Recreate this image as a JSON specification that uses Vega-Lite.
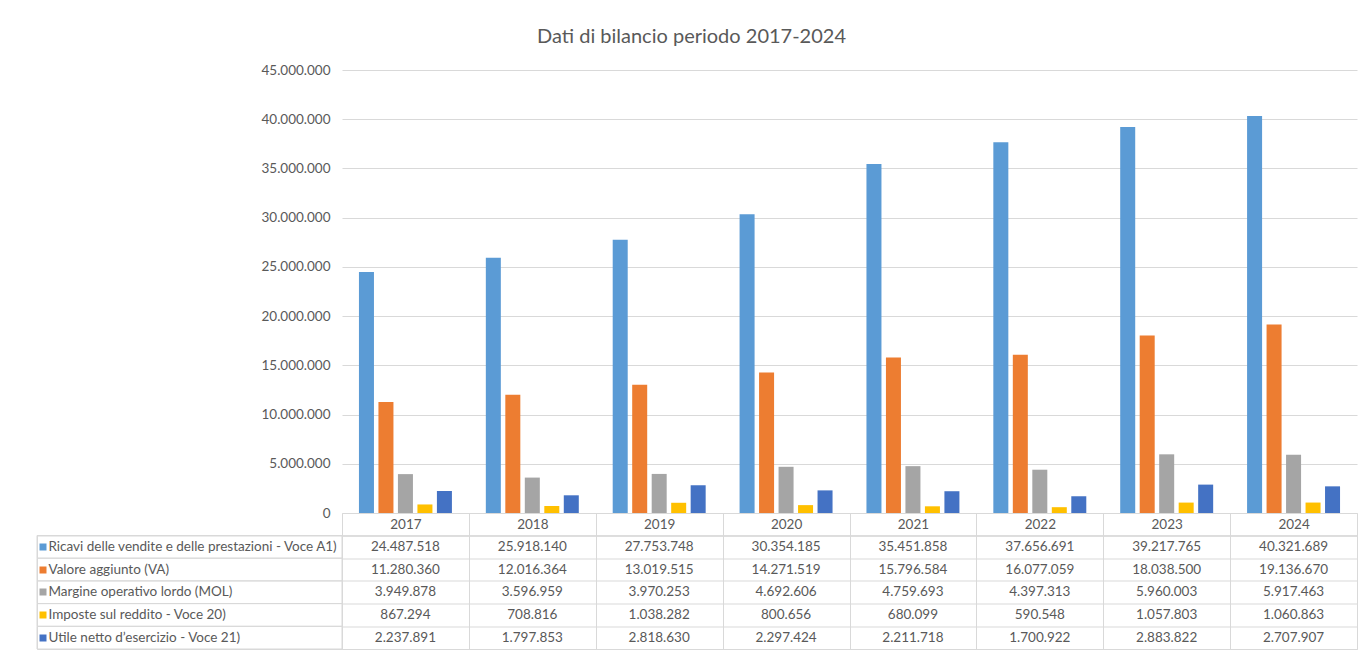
{
  "$schema": "https://vega.github.io/schema/vega-lite/v6.json",
  "background": "white",
  "padding": {"left": 35, "top": 27, "right": 5, "bottom": 0},
  "title": {"text": "Dati di bilancio periodo 2017-2024", "font": "Lato", "fontSize": 20, "fontWeight": "normal", "color": "#595959", "anchor": "middle", "offset": 16, "dx": -5},
  "datasets": {
    "bilancio": [
      {"anno": "2017", "voce": "Ricavi delle vendite e delle prestazioni - Voce A1)", "valore": 24487518},
      {"anno": "2017", "voce": "Valore aggiunto (VA)", "valore": 11280360},
      {"anno": "2017", "voce": "Margine operativo lordo (MOL)", "valore": 3949878},
      {"anno": "2017", "voce": "Imposte sul reddito - Voce 20)", "valore": 867294},
      {"anno": "2017", "voce": "Utile netto d’esercizio - Voce 21)", "valore": 2237891},
      {"anno": "2018", "voce": "Ricavi delle vendite e delle prestazioni - Voce A1)", "valore": 25918140},
      {"anno": "2018", "voce": "Valore aggiunto (VA)", "valore": 12016364},
      {"anno": "2018", "voce": "Margine operativo lordo (MOL)", "valore": 3596959},
      {"anno": "2018", "voce": "Imposte sul reddito - Voce 20)", "valore": 708816},
      {"anno": "2018", "voce": "Utile netto d’esercizio - Voce 21)", "valore": 1797853},
      {"anno": "2019", "voce": "Ricavi delle vendite e delle prestazioni - Voce A1)", "valore": 27753748},
      {"anno": "2019", "voce": "Valore aggiunto (VA)", "valore": 13019515},
      {"anno": "2019", "voce": "Margine operativo lordo (MOL)", "valore": 3970253},
      {"anno": "2019", "voce": "Imposte sul reddito - Voce 20)", "valore": 1038282},
      {"anno": "2019", "voce": "Utile netto d’esercizio - Voce 21)", "valore": 2818630},
      {"anno": "2020", "voce": "Ricavi delle vendite e delle prestazioni - Voce A1)", "valore": 30354185},
      {"anno": "2020", "voce": "Valore aggiunto (VA)", "valore": 14271519},
      {"anno": "2020", "voce": "Margine operativo lordo (MOL)", "valore": 4692606},
      {"anno": "2020", "voce": "Imposte sul reddito - Voce 20)", "valore": 800656},
      {"anno": "2020", "voce": "Utile netto d’esercizio - Voce 21)", "valore": 2297424},
      {"anno": "2021", "voce": "Ricavi delle vendite e delle prestazioni - Voce A1)", "valore": 35451858},
      {"anno": "2021", "voce": "Valore aggiunto (VA)", "valore": 15796584},
      {"anno": "2021", "voce": "Margine operativo lordo (MOL)", "valore": 4759693},
      {"anno": "2021", "voce": "Imposte sul reddito - Voce 20)", "valore": 680099},
      {"anno": "2021", "voce": "Utile netto d’esercizio - Voce 21)", "valore": 2211718},
      {"anno": "2022", "voce": "Ricavi delle vendite e delle prestazioni - Voce A1)", "valore": 37656691},
      {"anno": "2022", "voce": "Valore aggiunto (VA)", "valore": 16077059},
      {"anno": "2022", "voce": "Margine operativo lordo (MOL)", "valore": 4397313},
      {"anno": "2022", "voce": "Imposte sul reddito - Voce 20)", "valore": 590548},
      {"anno": "2022", "voce": "Utile netto d’esercizio - Voce 21)", "valore": 1700922},
      {"anno": "2023", "voce": "Ricavi delle vendite e delle prestazioni - Voce A1)", "valore": 39217765},
      {"anno": "2023", "voce": "Valore aggiunto (VA)", "valore": 18038500},
      {"anno": "2023", "voce": "Margine operativo lordo (MOL)", "valore": 5960003},
      {"anno": "2023", "voce": "Imposte sul reddito - Voce 20)", "valore": 1057803},
      {"anno": "2023", "voce": "Utile netto d’esercizio - Voce 21)", "valore": 2883822},
      {"anno": "2024", "voce": "Ricavi delle vendite e delle prestazioni - Voce A1)", "valore": 40321689},
      {"anno": "2024", "voce": "Valore aggiunto (VA)", "valore": 19136670},
      {"anno": "2024", "voce": "Margine operativo lordo (MOL)", "valore": 5917463},
      {"anno": "2024", "voce": "Imposte sul reddito - Voce 20)", "valore": 1060863},
      {"anno": "2024", "voce": "Utile netto d’esercizio - Voce 21)", "valore": 2707907}
    ]
  },
  "columns": 2,
  "bounds": "flush",
  "align": "each",
  "spacing": {"row": 22.5, "column": 0},
  "concat": [
    {
      "width": 305,
      "height": 443,
      "data": {"values": []},
      "mark": "point",
      "encoding": {}
    },
    {
      "width": 1015,
      "height": 443,
      "data": {"name": "bilancio"},
      "mark": {"type": "bar"},
      "encoding": {
        "x": {"field": "anno", "type": "nominal", "scale": {"paddingInner": 0, "paddingOuter": 0}, "axis": {"title": null, "labels": false, "ticks": false, "domain": true, "domainColor": "#d9d9d9", "grid": false}},
        "xOffset": {"field": "voce", "type": "nominal", "sort": ["Ricavi delle vendite e delle prestazioni - Voce A1)", "Valore aggiunto (VA)", "Margine operativo lordo (MOL)", "Imposte sul reddito - Voce 20)", "Utile netto d’esercizio - Voce 21)"], "scale": {"paddingInner": 0.23, "paddingOuter": 0.87}},
        "y": {"field": "valore", "type": "quantitative", "scale": {"domain": [0, 45000000]}, "axis": {"title": null, "values": [0, 5000000, 10000000, 15000000, 20000000, 25000000, 30000000, 35000000, 40000000, 45000000], "format": ",d", "domain": false, "ticks": false, "grid": true, "gridColor": "#d9d9d9", "labelFont": "Lato", "labelFontSize": 13.5, "labelColor": "#595959", "labelPadding": 12}},
        "color": {"field": "voce", "type": "nominal", "scale": {"domain": ["Ricavi delle vendite e delle prestazioni - Voce A1)", "Valore aggiunto (VA)", "Margine operativo lordo (MOL)", "Imposte sul reddito - Voce 20)", "Utile netto d’esercizio - Voce 21)"], "range": ["#5B9BD5", "#ED7D31", "#A5A5A5", "#FFC000", "#4472C4"]}, "legend": null}
      }
    },
    {
      "width": 305,
      "height": 113.5,
      "view": {"stroke": "#d9d9d9"},
      "data": {"name": "bilancio"},
      "transform": [{"filter": "datum.anno == '2017'"}],
      "mark": {"type": "rect", "fill": "white", "fillOpacity": 0, "stroke": "#d9d9d9", "strokeWidth": 1},
      "encoding": {
        "y": {"field": "voce", "type": "nominal", "scale": {"type": "band", "domain": ["Ricavi delle vendite e delle prestazioni - Voce A1)", "Valore aggiunto (VA)", "Margine operativo lordo (MOL)", "Imposte sul reddito - Voce 20)", "Utile netto d’esercizio - Voce 21)"], "paddingInner": 0, "paddingOuter": 0},
          "axis": {"title": null, "orient": "left", "offset": -2, "domain": false, "grid": false, "ticks": true, "tickSize": -7, "tickWidth": 7, "tickCap": "butt",
            "tickColor": {"condition": [
              {"test": "datum.value === 'Ricavi delle vendite e delle prestazioni - Voce A1)'", "value": "#5B9BD5"},
              {"test": "datum.value === 'Valore aggiunto (VA)'", "value": "#ED7D31"},
              {"test": "datum.value === 'Margine operativo lordo (MOL)'", "value": "#A5A5A5"},
              {"test": "datum.value === 'Imposte sul reddito - Voce 20)'", "value": "#FFC000"}
            ], "value": "#4472C4"},
            "labelAlign": "left", "labelBaseline": "middle", "labelPadding": -2, "labelLimit": 400, "labelFont": "Lato", "labelFontSize": 13.5, "labelColor": "#595959"}}
      }
    },
    {
      "width": 1015,
      "height": 113.5,
      "view": {"stroke": "#d9d9d9"},
      "data": {"name": "bilancio"},
      "mark": {"type": "text", "font": "Lato", "fontSize": 13.5, "color": "#595959"},
      "encoding": {
        "x": {"field": "anno", "type": "nominal", "scale": {"type": "band", "paddingInner": 0, "paddingOuter": 0},
          "axis": {"title": null, "orient": "top", "labelAngle": 0, "tickBand": "extent", "tickSize": 22.5, "tickColor": "#d9d9d9", "domain": true, "domainColor": "#d9d9d9", "grid": true, "gridColor": "#d9d9d9", "labelBaseline": "middle", "labelPadding": -11, "labelFont": "Lato", "labelFontSize": 13.5, "labelColor": "#595959"}},
        "y": {"field": "voce", "type": "nominal", "scale": {"type": "band", "domain": ["Ricavi delle vendite e delle prestazioni - Voce A1)", "Valore aggiunto (VA)", "Margine operativo lordo (MOL)", "Imposte sul reddito - Voce 20)", "Utile netto d’esercizio - Voce 21)"], "paddingInner": 0, "paddingOuter": 0},
          "axis": {"title": null, "labels": false, "ticks": false, "domain": false, "grid": true, "tickBand": "extent", "gridColor": "#d9d9d9"}},
        "text": {"field": "valore", "type": "quantitative", "format": ",d"}
      }
    }
  ],
  "config": {
    "locale": {"number": {"decimal": ",", "thousands": ".", "grouping": [3], "currency": ["€", ""]}},
    "view": {"stroke": null},
    "font": "Lato"
  }
}
